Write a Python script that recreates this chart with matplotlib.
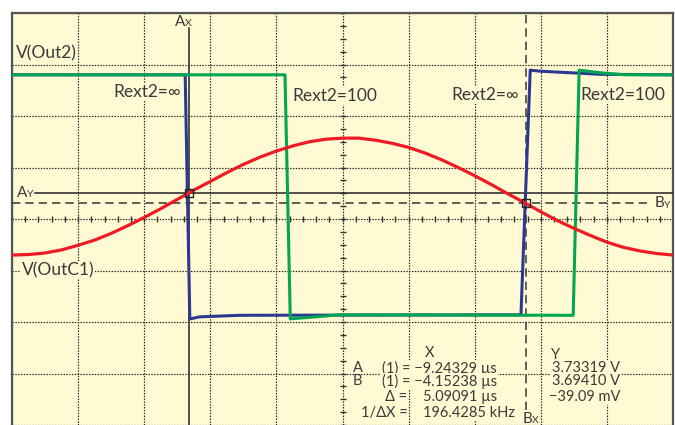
import matplotlib
matplotlib.use("Agg")
import matplotlib.pyplot as plt
import numpy as np

# screen units: 10 horizontal divisions, 8 vertical divisions
bg = "#fffad3"
txt_col = "#3a3a3a"

# V(Out2) traces, (x, y) in divisions
green_x = [0.0, 4.13, 4.21, 4.96, 8.49, 8.58, 8.90, 9.27, 10.0]
green_y = [6.80, 6.80, 2.06, 2.14, 2.13, 6.89, 6.84, 6.80, 6.80]
blue_x = [0.0, 2.62, 2.69, 2.84, 3.45, 7.70, 7.84, 7.99, 8.90, 10.0]
blue_y = [6.80, 6.80, 2.06, 2.10, 2.13, 2.14, 6.89, 6.87, 6.81, 6.80]

# V(OutC1), sampled every 1/4 division
red_x = np.arange(0, 10.01, 0.25)
red_y = [3.30, 3.31, 3.34, 3.40, 3.49, 3.59, 3.72, 3.87, 4.03, 4.20,
         4.38, 4.56, 4.73, 4.90, 5.06, 5.20, 5.32, 5.42, 5.50, 5.55,
         5.57, 5.57, 5.53, 5.47, 5.39, 5.28, 5.15, 5.00, 4.84, 4.67,
         4.49, 4.32, 4.14, 3.97, 3.82, 3.68, 3.55, 3.45, 3.38, 3.33, 3.30]

# cursors
ax_pos = 2.678
bx_pos = ax_pos + 5.09091
ay_pos = 4.505
by_pos = 4.301

fig = plt.figure(figsize=(6.75, 4.25), dpi=100)
ax = fig.add_axes([12/675, 0, 661/675, 412/425])
ax.set_facecolor(bg)
ax.set_xlim(0, 10)
ax.set_ylim(0, 8)
ax.set_xticks(np.arange(0, 11, 1))
ax.set_yticks(np.arange(0, 9, 1))
ax.tick_params(length=0, labelbottom=False, labelleft=False)
ax.grid(True, color="#222222", linestyle=(0, (1.2, 1.2)), linewidth=0.85)
ax.set_axisbelow(True)
for s in ["top", "left", "right"]:
    ax.spines[s].set_color("#555555")
    ax.spines[s].set_linewidth(1.6)
ax.spines["bottom"].set_visible(False)

# crosshair ticks
ax.plot(np.full(33, 5.0), np.arange(0, 8.01, 0.25), ls="none", marker="_",
        ms=4.5, mew=1, color="#333333", zorder=2)
ax.plot(np.arange(0, 10.01, 0.2), np.full(51, 4.0), ls="none", marker="|",
        ms=4.5, mew=1, color="#333333", zorder=2)

# cursor lines
ax.plot([ax_pos, ax_pos], [0, 7.71], color="#222222", lw=1.1, zorder=3)
ax.plot([0.35, 10], [ay_pos, ay_pos], color="#222222", lw=1.1, zorder=3)
ax.plot([bx_pos, bx_pos], [0.3, 8], color="#444444", lw=1.2,
        ls=(0, (5, 3)), zorder=3)
ax.plot([0, 9.68], [by_pos, by_pos], color="#444444", lw=1.2,
        ls=(0, (5, 3)), zorder=3)

# traces
ax.plot(blue_x, blue_y, color="#2b3990", lw=2.2, zorder=4)
ax.plot(green_x, green_y, color="#00a651", lw=2.2, zorder=5)
ax.plot(red_x, red_y, color="#ed1c24", lw=2.3, zorder=6)

ax.plot([ax_pos, bx_pos], [ay_pos, by_pos], ls="none", marker="s", ms=6,
        mfc="none", mec="#222222", mew=1, zorder=7)

font = "Lato"
big = 12.5
box = dict(facecolor=bg, edgecolor="none", pad=0.6)

# cursor labels
for xx, yy, big_s, sub_s in [(2.62, 7.83, "A", "X"), (0.23, ay_pos, "A", "Y"),
                             (9.87, by_pos, "B", "Y"), (7.87, 0.12, "B", "X")]:
    ax.text(xx, yy, big_s, ha="right", va="center", fontsize=11, color=txt_col, family=font)
    ax.text(xx, yy - 0.03, sub_s, ha="left", va="center", fontsize=7.5, color=txt_col, family=font)

# trace labels
ax.text(0.06, 7.22, "V(Out2)", ha="left", va="center", fontsize=big, color=txt_col, family=font)
ax.text(0.15, 3.0, "V(OutC1)", ha="left", va="center", fontsize=big, color=txt_col,
        family=font, bbox=box, zorder=8)
for xx, yy, s in [(2.05, 6.47, "Rext2=\u221e"), (4.89, 6.39, "Rext2=100"),
                  (7.16, 6.41, "Rext2=\u221e"), (9.24, 6.41, "Rext2=100")]:
    ax.text(xx, yy, s, ha="center", va="center", fontsize=big, color=txt_col,
            family=font, bbox=box, zorder=3.5)

# cursor readout
small = 10.5
rows_y = [1.107, 0.845, 0.544, 0.233]
kw = dict(va="center", fontsize=small, color=txt_col, family=font)
ax.text(6.32, 1.40, "X", ha="center", **kw)
ax.text(8.22, 1.36, "Y", ha="center", **kw)
ax.text(5.16, rows_y[0], "A", ha="left", **kw)
ax.text(5.16, rows_y[1], "B", ha="left", **kw)
ax.text(5.60, rows_y[0], "(1) = \u22129.24329 \u00b5s", ha="left", bbox=box, zorder=8, **kw)
ax.text(5.60, rows_y[1], "(1) = \u22124.15238 \u00b5s", ha="left", bbox=box, zorder=8, **kw)
ax.text(5.98, rows_y[2], "\u0394 =", ha="right", bbox=box, zorder=8, **kw)
ax.text(6.22, rows_y[2], "5.09091 \u00b5s", ha="left", bbox=box, zorder=8, **kw)
ax.text(5.98, rows_y[3], "1/\u0394X =", ha="right", bbox=box, zorder=8, **kw)
ax.text(6.22, rows_y[3], "196.4285 kHz", ha="left", bbox=box, zorder=8, **kw)
for yy, s in zip(rows_y[:3], ["3.73319 V", "3.69410 V", "\u221239.09 mV"]):
    ax.text(9.2, yy, s, ha="right", bbox=box, zorder=8, **kw)

fig.savefig("out.png", dpi=100, facecolor="white")
